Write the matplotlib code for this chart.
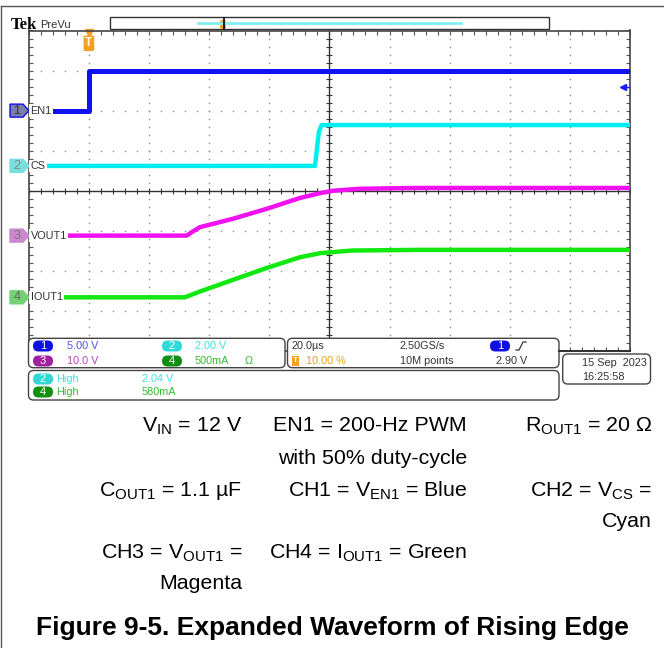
import numpy as np
import matplotlib.pyplot as plt
from matplotlib.patches import FancyBboxPatch, Polygon, Rectangle

plt.rcParams['font.family'] = ['Liberation Sans', 'DejaVu Sans']
plt.rcParams['mathtext.fontset'] = 'custom'
plt.rcParams['mathtext.rm'] = 'Liberation Sans'

# scope record: 20 us/div, trigger at 10 % (t = 0)
t_en1 = [-20, 0, 0, 180]
v_en1 = [0, 0, 5.0, 5.0]
t_cs = [-20, 75.2, 76.5, 77.4, 180]
v_cs = [0, 0, 1.7, 2.04, 2.04]
t_vout = [-20, 32.5, 34.5, 36.9, 47.9, 59.2, 70.2, 76.9, 81.2, 90.2, 110, 180]
v_vout = [0, 0, 1.0, 2.1, 4.2, 6.7, 9.4, 10.6, 11.2, 11.7, 11.9, 11.9]
t_iout = [-20, 31.9, 34.0, 36.9, 47.9, 59.0, 70.2, 76.9, 81.2, 87.5, 110, 180]
i_iout = [0, 0, 30, 72, 218, 364, 500, 551, 564, 584, 592, 592]

ch_names = ['EN1', 'CS', 'VOUT1', 'IOUT1']
ch_scale = [5.0, 2.0, 10.0, 500.0]      # units per div
ch_offset = [2.0, 0.62, -1.12, -2.66]   # div
ch_color = ['#1010f0', '#00eeee', '#f010f0', '#10e810']
trig_level = 2.90

W, H = 664, 648
fig = plt.figure(figsize=(W / 100, H / 100), dpi=100)
gl, gt, gr, gb = 28.8, 30.5, 630, 351
ax = fig.add_axes([gl / W, 1 - gb / H, (gr - gl) / W, (gb - gt) / H])
ax.set_xlim(-20, 180)
ax.set_ylim(-4, 4)

# graticule
dot = dict(ls='none', marker='s', ms=1.0, mew=0, color='#8c8c8c')
yy = np.arange(-4, 4.01, 0.2)
xx = np.arange(-20, 180.1, 4)
for x in np.arange(0, 180, 20):
    if x != 80:
        ax.plot(np.full_like(yy, x), yy, **dot)
for y in np.arange(-3, 4, 1):
    if y != 0:
        ax.plot(xx, np.full_like(xx, float(y)), **dot)
ax.axvline(80, color='#333333', lw=1)
ax.axhline(0, color='#333333', lw=1)
ax.plot(xx, np.zeros_like(xx), ls='none', marker='|', ms=5, mew=0.8, color='#333333')
ax.plot(np.full_like(yy, 80), yy, ls='none', marker='_', ms=5, mew=0.8, color='#333333')
ax.set_xticks(xx)
ax.set_yticks(yy)
ax.tick_params(direction='in', length=3, width=0.8, color='#555555',
               top=True, right=True, labelbottom=False, labelleft=False)
for s in ax.spines.values():
    s.set_color('#444444')
    s.set_linewidth(1.2)

# traces
series = [(t_en1, v_en1), (t_cs, v_cs), (t_vout, v_vout), (t_iout, i_iout)]
for k, (t, v) in enumerate(series):
    ax.plot(t, np.array(v) / ch_scale[k] + ch_offset[k], color=ch_color[k],
            lw=3.6 if k == 0 else 3.2, zorder=3)

# trigger level and trigger position markers
ytl = trig_level / ch_scale[0] + ch_offset[0]
ax.plot([177.6], [ytl], marker='<', ms=5, color='#1a1aff', ls='none')
ax.plot([178, 180], [ytl, ytl], color='#1a1aff', lw=1)
ax.plot([0], [3.93], marker='v', ms=6, color='#f5a020', clip_on=False)
ax.text(0, 3.68, 'T', ha='center', va='center', color='white', fontsize=8.5,
        fontweight='bold', bbox=dict(boxstyle='round,pad=0.15', fc='#f5a020', ec='none'))

# overlay in pixel coordinates
ov = fig.add_axes([0, 0, 1, 1], zorder=5)
ov.set_xlim(0, W)
ov.set_ylim(H, 0)
ov.axis('off')

ov.plot([1, W], [6, 6], color='#555555', lw=1)
ov.plot([1, 1], [6, H], color='#555555', lw=1)

ov.text(11, 29, 'Tek', family='Liberation Serif', fontweight='bold', fontsize=12)
ov.text(40, 28.5, 'PreVu', fontsize=8, color='#333333')
ov.add_patch(Rectangle((109.7, 17.3), 439.3, 12, fc='white', ec='#333333', lw=1))
ov.plot([198, 461], [23, 23], color='#80f0f0', lw=2)
ov.add_patch(FancyBboxPatch((220, 20), 6, 9, boxstyle='round,pad=0,rounding_size=2',
                            fc='#f5a020', ec='none'))
ov.plot([223.5, 223.5], [18, 29], color='black', lw=1.2)


def ypix(div):
    d = ax.transData.transform((0, div))
    return ov.transData.inverted().transform(d)[1]


mk_fill = ['#7c7ca8', '#78dede', '#cc88cc', '#74d074']
mk_num = ['#333333', '#888888', '#777777', '#666666']
for k in range(4):
    yc = ypix(ch_offset[k])
    ov.add_patch(Polygon([(10, yc - 6.5), (23, yc - 6.5), (29, yc), (23, yc + 6.5), (10, yc + 6.5)],
                         fc=mk_fill[k], ec=ch_color[k] if k == 0 else mk_fill[k], lw=1))
    ov.text(17, yc, str(k + 1), ha='center', va='center', fontsize=9, color=mk_num[k])
    ov.text(30.6, yc, ch_names[k], ha='left', va='center', fontsize=7.8, color='#333333',
            bbox=dict(boxstyle='square,pad=0.12', fc='white', ec='none'))


def panel(x0, y0, x1, y1):
    ov.add_patch(FancyBboxPatch((x0, y0), x1 - x0, y1 - y0,
                                boxstyle='round,pad=0,rounding_size=5',
                                fc='white', ec='#444444', lw=1))


def pill(x, y, n, fc):
    ov.add_patch(FancyBboxPatch((x, y - 5.5), 20, 11, boxstyle='round,pad=0,rounding_size=5.5',
                                fc=fc, ec='none'))
    ov.text(x + 10, y, n, ha='center', va='center', fontsize=8, color='white')


fs = 7.8
panel(28.5, 338.3, 285, 367.7)
pill(33, 346, '1', '#1010e0')
ov.text(66.7, 346, '5.00 V', va='center', fontsize=fs, color='#5050f0')
pill(162, 346, '2', '#30d8d8')
ov.text(195, 346, '2.00 V', va='center', fontsize=fs, color='#40e0e0')
pill(33, 361, '3', '#a020a0')
ov.text(66.7, 361, '10.0 V', va='center', fontsize=fs, color='#c040c0')
pill(162, 361, '4', '#109010')
ov.text(195, 361, '500mA', va='center', fontsize=fs, color='#30c030')
ov.text(245, 361, 'Ω', va='center', fontsize=fs, color='#30c030')

panel(287.5, 338.3, 559, 367.7)
ov.text(291.7, 346, '20.0µs', va='center', fontsize=fs, color='#333333')
ov.text(400, 346, '2.50GS/s', va='center', fontsize=fs, color='#333333')
pill(490, 346, '1', '#1010e0')
ov.plot([516, 519, 523, 526], [350, 350, 342, 342], color='#333333', lw=0.9)
ov.add_patch(Rectangle((291.7, 356), 7, 10, fc='#f5a020', ec='none'))
ov.text(295.2, 361, 'T', ha='center', va='center', fontsize=6, color='white', fontweight='bold')
ov.text(306, 361, '10.00 %', va='center', fontsize=fs, color='#f0a020')
ov.text(400, 361, '10M points', va='center', fontsize=fs, color='#333333')
ov.text(496, 361, '2.90 V', va='center', fontsize=fs, color='#333333')

panel(28.5, 370.5, 559, 400)
pill(33, 379, '2', '#30d8d8')
ov.text(56, 379, 'High', va='center', fontsize=fs, color='#40e0e0')
ov.text(141.7, 379, '2.04 V', va='center', fontsize=fs, color='#40e0e0')
pill(33, 392, '4', '#109010')
ov.text(56, 392, 'High', va='center', fontsize=fs, color='#30c030')
ov.text(141.7, 392, '580mA', va='center', fontsize=fs, color='#30c030')

ov.plot([559, 630], [351, 351], color='#333333', lw=1.5)
panel(562.7, 354, 650.5, 384)
ov.text(581.7, 363, '15 Sep  2023', va='center', fontsize=fs, color='#333333')
ov.text(581.7, 377, '16:25:58', va='center', fontsize=fs, color='#333333')

# test conditions
sp = 15.4
ov.text(242, 431, 'V$_{\\mathrm{IN}}$ = 12 V', ha='right', fontsize=sp)
ov.text(467, 431, 'EN1 = 200-Hz PWM', ha='right', fontsize=sp)
ov.text(652, 431, 'R$_{\\mathrm{OUT1}}$ = 20 Ω', ha='right', fontsize=sp)
ov.text(467, 464, 'with 50% duty-cycle', ha='right', fontsize=sp)
ov.text(242, 496, 'C$_{\\mathrm{OUT1}}$ = 1.1 µF', ha='right', fontsize=sp)
ov.text(467, 496, 'CH1 = V$_{\\mathrm{EN1}}$ = Blue', ha='right', fontsize=sp)
ov.text(652, 496, 'CH2 = V$_{\\mathrm{CS}}$ =', ha='right', fontsize=sp)
ov.text(652, 527, 'Cyan', ha='right', fontsize=sp)
ov.text(242, 558, 'CH3 = V$_{\\mathrm{OUT1}}$ =', ha='right', fontsize=sp)
ov.text(467, 558, 'CH4 = I$_{\\mathrm{OUT1}}$ = Green', ha='right', fontsize=sp)
ov.text(242, 589, 'Magenta', ha='right', fontsize=sp)
ov.text(332, 635, 'Figure 9-5. Expanded Waveform of Rising Edge', ha='center',
        fontsize=19, fontweight='bold')

fig.savefig('out.png', dpi=100)
